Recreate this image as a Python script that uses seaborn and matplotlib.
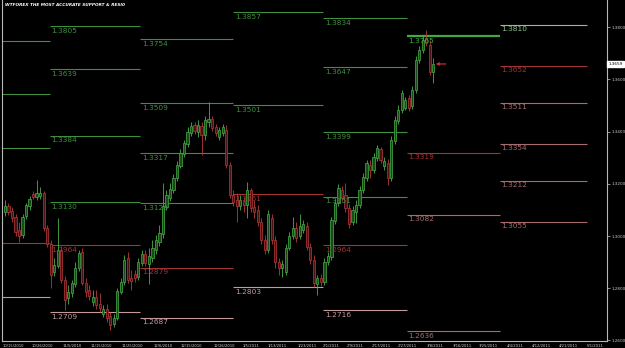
import matplotlib
matplotlib.use("Agg")
import matplotlib.pyplot as plt
import matplotlib.transforms as mtransforms
import numpy as np
import seaborn as sns

# ---------------- data ----------------
opens = [1.3092, 1.3115, 1.3096, 1.3073, 1.3023, 1.3004, 1.3077, 1.3115, 1.3161, 1.3149,
 1.3153, 1.3165, 1.3031, 1.2970, 1.2862, 1.2885, 1.2946, 1.2831, 1.2763, 1.2782,
 1.2816, 1.2877, 1.2939, 1.2820, 1.2793, 1.2747, 1.2766, 1.2740, 1.2701, 1.2721,
 1.2693, 1.2663, 1.2686, 1.2785, 1.2824, 1.2916, 1.2839, 1.2855, 1.2843, 1.2897,
 1.2931, 1.2893, 1.2916, 1.2946, 1.2977, 1.3008, 1.3111, 1.3146, 1.3176, 1.3222,
 1.3268, 1.3314, 1.3352, 1.3394, 1.3425, 1.3398, 1.3421, 1.3387, 1.3437, 1.3448,
 1.3418, 1.3379, 1.3394, 1.3406, 1.3272, 1.3157, 1.3138, 1.3115, 1.3134, 1.3119,
 1.3176, 1.3111, 1.3100, 1.3053, 1.2985, 1.2946, 1.3069, 1.2985, 1.2900, 1.2877,
 1.2862, 1.2954, 1.3000, 1.3031, 1.3000, 1.3023, 1.3038, 1.2958, 1.2908, 1.2816,
 1.2839, 1.2824, 1.2900, 1.2920, 1.3058, 1.3127, 1.3176, 1.3157, 1.3107, 1.3053,
 1.3092, 1.3119, 1.3176, 1.3222, 1.3272, 1.3253, 1.3299, 1.3333, 1.3268, 1.3280,
 1.3222, 1.3364, 1.3441, 1.3483, 1.3490, 1.3529, 1.3498, 1.3559, 1.3674, 1.3713,
 1.3758, 1.3732, 1.3628]
highs = [1.3138, 1.3127, 1.3111, 1.3085, 1.3053, 1.3085, 1.3127, 1.3153, 1.3172, 1.3215,
 1.3188, 1.3172, 1.3042, 1.2985, 1.2916, 1.3069, 1.2962, 1.2847, 1.2812, 1.2831,
 1.2900, 1.2946, 1.2954, 1.2839, 1.2812, 1.2793, 1.2793, 1.2782, 1.2736, 1.2740,
 1.2709, 1.2701, 1.2801, 1.2839, 1.2927, 1.2939, 1.2870, 1.2870, 1.2916, 1.2946,
 1.2946, 1.2954, 1.2985, 1.3004, 1.3042, 1.3203, 1.3176, 1.3203, 1.3238, 1.3287,
 1.3333, 1.3368, 1.3418, 1.3437, 1.3437, 1.3444, 1.3437, 1.3460, 1.3513, 1.3460,
 1.3429, 1.3418, 1.3429, 1.3425, 1.3284, 1.3176, 1.3165, 1.3157, 1.3149, 1.3207,
 1.3184, 1.3138, 1.3119, 1.3069, 1.3004, 1.3100, 1.3085, 1.3000, 1.2916, 1.2908,
 1.2970, 1.3015, 1.3073, 1.3053, 1.3085, 1.3061, 1.3053, 1.2974, 1.2927, 1.2851,
 1.2855, 1.2916, 1.2939, 1.3073, 1.3142, 1.3199, 1.3192, 1.3203, 1.3123, 1.3115,
 1.3138, 1.3192, 1.3241, 1.3291, 1.3291, 1.3318, 1.3349, 1.3341, 1.3303, 1.3295,
 1.3383, 1.3460, 1.3502, 1.3559, 1.3533, 1.3540, 1.3575, 1.3689, 1.3728, 1.3770,
 1.3789, 1.3751, 1.3682]
lows = [1.3077, 1.3081, 1.3053, 1.3000, 1.2977, 1.2993, 1.3065, 1.3100, 1.3142, 1.3138,
 1.3142, 1.3019, 1.2958, 1.2801, 1.2847, 1.2877, 1.2820, 1.2717, 1.2740, 1.2766,
 1.2804, 1.2866, 1.2812, 1.2766, 1.2755, 1.2732, 1.2721, 1.2709, 1.2690, 1.2670,
 1.2640, 1.2651, 1.2678, 1.2778, 1.2812, 1.2820, 1.2793, 1.2824, 1.2831, 1.2885,
 1.2885, 1.2816, 1.2900, 1.2931, 1.2962, 1.2993, 1.3100, 1.3134, 1.3165, 1.3211,
 1.3261, 1.3303, 1.3341, 1.3383, 1.3391, 1.3379, 1.3310, 1.3368, 1.3418, 1.3402,
 1.3383, 1.3368, 1.3383, 1.3261, 1.3146, 1.3115, 1.3053, 1.3100, 1.3092, 1.3069,
 1.3092, 1.3069, 1.3038, 1.2970, 1.2931, 1.2935, 1.2970, 1.2877, 1.2851, 1.2843,
 1.2851, 1.2946, 1.2989, 1.2977, 1.2989, 1.3012, 1.2946, 1.2893, 1.2804, 1.2774,
 1.2808, 1.2812, 1.2889, 1.2908, 1.3046, 1.3115, 1.3134, 1.3092, 1.3031, 1.3042,
 1.3050, 1.3107, 1.3165, 1.3211, 1.3222, 1.3241, 1.3287, 1.3280, 1.3253, 1.3195,
 1.3211, 1.3352, 1.3429, 1.3471, 1.3483, 1.3479, 1.3487, 1.3548, 1.3663, 1.3701,
 1.3728, 1.3617, 1.3586]
closes = [1.3115, 1.3092, 1.3070, 1.3015, 1.3000, 1.3073, 1.3119, 1.3142, 1.3149, 1.3165,
 1.3165, 1.3031, 1.2970, 1.2851, 1.2889, 1.2946, 1.2831, 1.2755, 1.2785, 1.2820,
 1.2877, 1.2935, 1.2820, 1.2785, 1.2770, 1.2766, 1.2736, 1.2724, 1.2721, 1.2686,
 1.2659, 1.2686, 1.2789, 1.2824, 1.2908, 1.2831, 1.2828, 1.2839, 1.2900, 1.2931,
 1.2897, 1.2923, 1.2954, 1.2985, 1.3012, 1.3115, 1.3157, 1.3180, 1.3222, 1.3272,
 1.3318, 1.3356, 1.3398, 1.3421, 1.3402, 1.3425, 1.3387, 1.3444, 1.3448, 1.3414,
 1.3394, 1.3406, 1.3418, 1.3272, 1.3157, 1.3130, 1.3115, 1.3138, 1.3119, 1.3176,
 1.3107, 1.3092, 1.3053, 1.2985, 1.2946, 1.3085, 1.2985, 1.2900, 1.2877, 1.2893,
 1.2954, 1.3000, 1.3031, 1.2993, 1.3038, 1.3046, 1.2958, 1.2908, 1.2820, 1.2839,
 1.2824, 1.2900, 1.2923, 1.3061, 1.3127, 1.3184, 1.3146, 1.3107, 1.3046, 1.3100,
 1.3119, 1.3176, 1.3226, 1.3280, 1.3253, 1.3303, 1.3337, 1.3291, 1.3287, 1.3222,
 1.3368, 1.3444, 1.3483, 1.3548, 1.3521, 1.3490, 1.3559, 1.3674, 1.3713, 1.3751,
 1.3739, 1.3628, 1.3659]

# date ticks (bar index of each labelled date)
tick_pos = [-0.8, 7.7, 16.5, 24.5, 33.3, 42.2, 50.1, 59.3, 67.8, 74.9, 83.2, 90.6,
            97.4, 104.6, 112.0, 120.2, 127.4, 135.0, 143.0, 150.1, 157.8, 165.8]
tick_labels = ["10/15/2010", "10/26/2010", "11/5/2010", "11/15/2010", "11/25/2010",
               "12/6/2010", "12/15/2010", "12/26/2010", "1/5/2011", "1/13/2011",
               "1/23/2011", "2/1/2011", "2/9/2011", "2/17/2011", "2/27/2011",
               "3/8/2011", "3/16/2011", "3/25/2011", "4/4/2011", "4/12/2011",
               "4/21/2011", "5/1/2011"]

price_ticks = [1.26, 1.28, 1.30, 1.32, 1.34, 1.36, 1.38]

# monthly periods (bar index where each month starts / ends)
month_start = [-10, 12.8, 38.5, 65.0, 90.6, 114.5, 141.0]
month_end = [12.8, 38.5, 65.0, 90.6, 114.5, 141.0, 165.8]

# support / resistance levels: month index, price, type
lvl_month = [0, 0, 0, 0, 0,
             1, 1, 1, 1, 1, 1,
             2, 2, 2, 2, 2, 2,
             3, 3, 3, 3,
             4, 4, 4, 4, 4, 4,
             5, 5, 5, 5,
             6, 6, 6, 6, 6, 6]
lvl_price = [1.3747, 1.3544, 1.3337, 1.2973, 1.2766,
             1.3805, 1.3639, 1.3384, 1.3130, 1.2964, 1.2709,
             1.3754, 1.3509, 1.3317, 1.3126, 1.2879, 1.2687,
             1.3857, 1.3501, 1.3161, 1.2803,
             1.3834, 1.3647, 1.3399, 1.3151, 1.2964, 1.2716,
             1.3765, 1.3319, 1.3082, 1.2636,
             1.3810, 1.3652, 1.3511, 1.3354, 1.3212, 1.3055]
lvl_kind = ["g", "g", "g", "r", "p",
            "g", "g", "g", "g", "r", "p",
            "g", "g", "g", "g", "r", "p",
            "g", "g", "r", "p",
            "g", "g", "g", "g", "r", "p",
            "G", "r", "q", "q",
            "l", "r", "q", "q", "q", "q"]

title = "WTFOREX THE MOST ACCURATE SUPPORT & RESI0"

# ---------------- style ----------------
sns.set_theme(style="dark", rc={
    "figure.facecolor": "black", "axes.facecolor": "black",
    "axes.edgecolor": "#b8b8b8", "text.color": "white",
    "xtick.color": "#c8c8c8", "ytick.color": "#c8c8c8",
    "axes.grid": False,
})
plt.rcParams["font.family"] = ["DejaVu Sans"]

kind_color = {"g": "#3f8f3f", "G": "#43a843", "l": "#8fbf8f", "r": "#a33232",
              "p": "#c49a9a", "q": "#a86c6c"}
kind_lw = {"g": 0.8, "G": 1.6, "l": 0.8, "r": 0.8, "p": 0.8, "q": 0.8}

fig = plt.figure(figsize=(6.25, 3.48), dpi=100)
ax = fig.add_axes([2 / 625, 7 / 348, 605 / 625, 341 / 348])
ax.set_facecolor("black")

o = np.array(opens); h = np.array(highs); l = np.array(lows); c = np.array(closes)
x = np.arange(len(o))

# levels
for m, p, k in zip(lvl_month, lvl_price, lvl_kind):
    ax.hlines(p, month_start[m], month_end[m], colors=kind_color[k],
              lw=kind_lw[k], zorder=1)
    ax.annotate(f"{p:.4f}", xy=(month_start[m], p), xytext=(1.2, -1.2),
                textcoords="offset points", ha="left", va="top",
                fontsize=5.3, color=kind_color[k], zorder=4,
                annotation_clip=True, clip_on=True)

# candles
up = c >= o
g_edge, g_face = "#48b048", "#1a4a1a"
r_edge, r_face = "#b83a3a", "#4a1212"
body_h = np.maximum(np.abs(c - o), 0.00025)
body_b = np.minimum(o, c)
for mask, edge, face in ((up, g_edge, g_face), (~up, r_edge, r_face)):
    ax.vlines(x[mask], l[mask], h[mask], colors=edge, lw=0.6, zorder=2)
    ax.bar(x[mask], body_h[mask], bottom=body_b[mask], width=0.62,
           color=face, edgecolor=edge, linewidth=0.5, zorder=3)

ax.set_xlim(-0.85, 171.5)
ax.set_ylim(1.2598, 1.3904)

# axes styling
ax.spines["top"].set_visible(False)
for side in ("left", "right", "bottom"):
    ax.spines[side].set_visible(True)
    ax.spines[side].set_color("#b8b8b8")
    ax.spines[side].set_linewidth(0.8)

ax.yaxis.tick_right()
ax.set_yticks(price_ticks)
ax.set_yticklabels([f"{v:.4f}" for v in price_ticks])
ax.tick_params(axis="y", which="both", direction="out", length=2, width=0.5,
               pad=1.5, labelsize=3, colors="#c8c8c8", left=False, right=True)

ax.set_xticks(tick_pos)
ax.set_xticklabels(tick_labels, ha="left")
ax.tick_params(axis="x", direction="out", length=1.5, width=0.5, pad=0.6,
               labelsize=2.7, colors="#d0d0d0")

# current price box and arrow
last = closes[-1]
trans = mtransforms.blended_transform_factory(ax.transAxes, ax.transData)
ax.text(1.002, last, f"{last:.4f}", transform=trans, fontsize=3, color="black",
        va="center", ha="left",
        bbox=dict(boxstyle="square,pad=0.25", fc="white", ec="white"), clip_on=False)
ax.annotate("", xy=(len(o) - 0.3, last), xytext=(len(o) + 2.6, last),
            arrowprops=dict(arrowstyle="-|>", color="#c03030", lw=0.9,
                            mutation_scale=4, shrinkA=0, shrinkB=0), zorder=5)

fig.text(5 / 625, 1 - 5 / 348, title, fontsize=3.1, color="white",
         fontweight="bold", fontstyle="italic", va="center", ha="left")

fig.savefig("out.png", dpi=100, facecolor="black")
